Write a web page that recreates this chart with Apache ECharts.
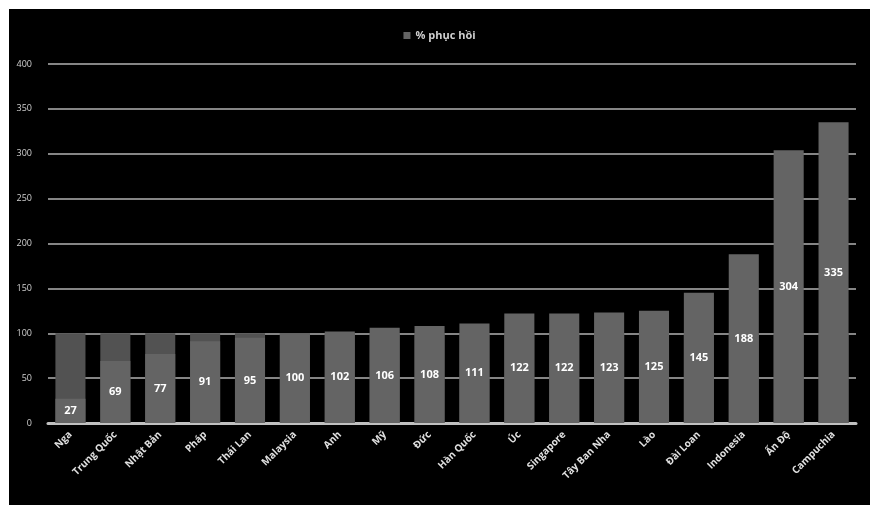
<!DOCTYPE html>
<html><head><meta charset="utf-8">
<script src="https://cdn.jsdelivr.net/npm/echarts@6/dist/echarts.min.js"></script>
<style>
html,body{margin:0;padding:0;background:#fff;width:876px;height:506px;overflow:hidden}
#c{position:absolute;left:9px;top:9px;width:861px;height:496px}
</style></head><body>
<div id="c"></div>
<script>
const categories = ["Nga","Trung Quốc","Nhật Bản","Pháp","Thái Lan","Malaysia","Anh","Mỹ","Đức","Hàn Quốc","Úc","Singapore","Tây Ban Nha","Lào","Đài Loan","Indonesia","Ấn Độ","Campuchia"];
const recovery = [27,69,77,91,95,100,102,106,108,111,122,122,123,125,145,188,304,335];
const baseline = [100,100,100,100,100,100,100,100,100,100,100,100,100,100,100,100,100,100];
const seriesName = "% phục hồi";

const chart = echarts.init(document.getElementById('c'));
chart.setOption({
  backgroundColor: '#000',
  animation: false,
  textStyle: {fontFamily: 'Open Sans'},
  legend: {
    data: [seriesName], top: 16, left: 'center',
    itemWidth: 7, itemHeight: 7, itemGap: 4, icon: 'rect',
    textStyle: {color: '#cfcfcf', fontSize: 11, fontWeight: 'bold'}
  },
  grid: {left: 39, right: 14, top: 55, bottom: 82},
  xAxis: {
    type: 'category', data: categories,
    axisLine: {lineStyle: {color: '#c0c0c0', width: 3}},
    axisTick: {show: false},
    axisLabel: {rotate: 45, color: '#e0e0e0', fontSize: 10, fontWeight: 'bold', interval: 0, margin: 10}
  },
  yAxis: {
    type: 'value', min: 0, max: 400, interval: 50,
    axisLine: {show: false}, axisTick: {show: false},
    axisLabel: {color: '#d0d0d0', fontSize: 9, margin: 16},
    splitLine: {lineStyle: {color: '#858585', width: 2}}
  },
  series: [
    {
      name: 'base', type: 'bar', data: baseline, barWidth: '67%', z: 1,
      itemStyle: {color: '#525252'}, silent: true
    },
    {
      name: seriesName, type: 'bar', data: recovery, barWidth: '67%', barGap: '-100%', z: 2,
      itemStyle: {color: '#646464'},
      label: {show: true, position: 'inside', color: '#fff', fontSize: 11, fontWeight: 'bold'}
    }
  ]
});
</script>
</body></html>
